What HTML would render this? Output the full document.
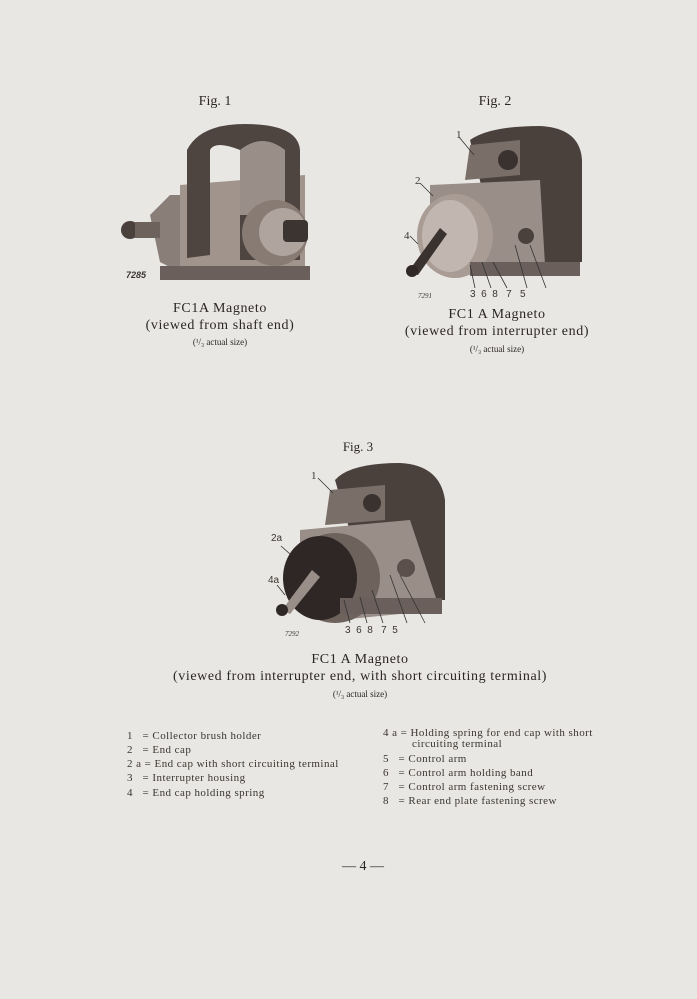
<!DOCTYPE html>
<html><head><meta charset="utf-8"><style>
body{margin:0;width:697px;height:999px;background:#e9e7e3;position:relative;overflow:hidden;font-family:"Liberation Serif",serif;color:#2a2624}
.t{position:absolute;white-space:nowrap;transform:translateX(-50%)}
.c{font-size:14px;letter-spacing:0.6px}
.l{position:absolute;white-space:nowrap;font-size:11px;letter-spacing:0.45px;color:#3a3532}
svg{position:absolute;left:0;top:0}
</style></head><body>
<svg width="697" height="999">
<g>
<path d="M150 215 L170 195 L185 195 L185 275 L160 262 Z" fill="#8a7e78"/>
<circle cx="130" cy="230" r="9" fill="#4a403c"/>
<rect x="135" y="222" width="25" height="16" fill="#6e625c"/>
<path d="M180 185 L305 175 L305 270 L180 275 Z" fill="#a0948c"/>
<path d="M187 150 Q200 124 245 124 Q298 124 300 150 L300 260 L240 260 L240 150 Q215 140 210 150 L210 255 L187 258 Z" fill="#4e4440"/>
<path d="M240 150 Q262 132 285 150 L285 215 L240 215 Z" fill="#9a8e88"/>
<circle cx="275" cy="233" r="33" fill="#877b74"/>
<circle cx="283" cy="232" r="24" fill="#b0a59e"/>
<rect x="283" y="220" width="25" height="22" rx="4" fill="#3c3431"/>
<rect x="160" y="266" width="150" height="14" fill="#6a5f5a"/>
</g>
<g>
<path d="M470 140 Q490 126 540 126 Q580 128 582 160 L582 262 L500 262 Z" fill="#4a403c"/>
<path d="M470 145 L520 140 L520 175 L465 180 Z" fill="#7a6e68"/>
<circle cx="508" cy="160" r="10" fill="#3a322f"/>
<path d="M430 185 L540 180 L545 265 L470 275 L430 250 Z" fill="#9a8e88"/>
<ellipse cx="455" cy="236" rx="38" ry="42" fill="#a89c95"/>
<ellipse cx="450" cy="236" rx="28" ry="36" fill="#c2b7b0"/>
<path d="M408 272 L440 228 L447 234 L418 275 Z" fill="#3a322f"/>
<circle cx="412" cy="271" r="6" fill="#2f2826"/>
<circle cx="526" cy="236" r="8" fill="#4a403c"/>
<rect x="470" y="262" width="110" height="14" fill="#6a5f5a"/>
<g stroke="#333" stroke-width="0.8" fill="none">
<line x1="459" y1="137" x2="474" y2="155"/><line x1="420" y1="183" x2="433" y2="196"/><line x1="410" y1="236" x2="418" y2="244"/>
<line x1="475" y1="288" x2="470" y2="265"/><line x1="491" y1="288" x2="482" y2="262"/><line x1="507" y1="288" x2="493" y2="262"/><line x1="527" y1="288" x2="515" y2="245"/><line x1="546" y1="288" x2="530" y2="245"/>
</g>
</g>
<g>
<path d="M335 480 Q350 463 400 463 Q440 465 445 500 L445 600 L370 600 Z" fill="#4a403c"/>
<path d="M330 490 L385 485 L385 520 L325 525 Z" fill="#7a6e68"/>
<circle cx="372" cy="503" r="9" fill="#3a322f"/>
<path d="M300 530 L410 520 L440 610 L340 620 L300 580 Z" fill="#9a8e88"/>
<ellipse cx="335" cy="578" rx="45" ry="45" fill="#6e625c"/>
<ellipse cx="320" cy="578" rx="37" ry="42" fill="#2e2725"/>
<path d="M282 610 L312 570 L320 577 L290 614 Z" fill="#9a8e88"/>
<circle cx="282" cy="610" r="6" fill="#2f2826"/>
<circle cx="406" cy="568" r="9" fill="#5a4f4a"/>
<rect x="340" y="598" width="102" height="16" fill="#6a5f5a"/>
<g stroke="#333" stroke-width="0.8" fill="none">
<line x1="318" y1="478" x2="333" y2="493"/><line x1="281" y1="546" x2="290" y2="554"/><line x1="277" y1="585" x2="285" y2="595"/>
<line x1="350" y1="623" x2="344" y2="600"/><line x1="367" y1="623" x2="360" y2="597"/><line x1="383" y1="623" x2="372" y2="590"/><line x1="407" y1="623" x2="390" y2="575"/><line x1="425" y1="623" x2="400" y2="575"/>
</g>
</g>
</svg>
<div class="t" style="left:215px;top:94px;font-size:14px">Fig. 1</div>
<div class="t" style="left:495px;top:94px;font-size:14px">Fig. 2</div>
<div class="l" style="left:126px;top:270px;font-size:9px;letter-spacing:0;font-style:italic;font-weight:bold;font-family:'Liberation Sans',sans-serif">7285</div>
<div class="l" style="left:418px;top:292px;font-size:7px;letter-spacing:0;font-style:italic">7291</div>
<div class="l" style="left:456px;top:129px">1</div>
<div class="l" style="left:415px;top:175px">2</div>
<div class="l" style="left:404px;top:230px">4</div>
<div class="l" style="left:470px;top:289px;font-size:10px;letter-spacing:0;font-family:'Liberation Sans',sans-serif">3 &nbsp;6 &nbsp;8 &nbsp; 7 &nbsp; 5</div>
<div class="t c" style="left:220px;top:301px">FC1A Magneto</div>
<div class="t c" style="left:220px;top:318px">(viewed from shaft end)</div>
<div class="t" style="left:220px;top:337px;font-size:9px">(¹/₃ actual size)</div>
<div class="t c" style="left:497px;top:307px">FC1 A Magneto</div>
<div class="t c" style="left:497px;top:324px">(viewed from interrupter end)</div>
<div class="t" style="left:497px;top:344px;font-size:9px">(¹/₃ actual size)</div>
<div class="t" style="left:358px;top:439px;font-size:13px">Fig. 3</div>
<div class="l" style="left:311px;top:470px">1</div>
<div class="l" style="left:271px;top:533px;font-size:10px;letter-spacing:0;font-family:'Liberation Sans',sans-serif">2a</div>
<div class="l" style="left:268px;top:575px;font-size:10px;letter-spacing:0;font-family:'Liberation Sans',sans-serif">4a</div>
<div class="l" style="left:285px;top:630px;font-size:7px;letter-spacing:0;font-style:italic">7292</div>
<div class="l" style="left:345px;top:625px;font-size:10px;letter-spacing:0;font-family:'Liberation Sans',sans-serif">3 &nbsp;6 &nbsp;8 &nbsp; 7 &nbsp;5</div>
<div class="t c" style="left:360px;top:652px">FC1 A Magneto</div>
<div class="t c" style="left:360px;top:669px">(viewed from interrupter end, with short circuiting terminal)</div>
<div class="t" style="left:360px;top:689px;font-size:9px">(¹/₃ actual size)</div>
<div class="l" style="left:127px;top:730px">1 &nbsp;&nbsp;= Collector brush holder</div>
<div class="l" style="left:127px;top:744px">2 &nbsp;&nbsp;= End cap</div>
<div class="l" style="left:127px;top:758px">2 a = End cap with short circuiting terminal</div>
<div class="l" style="left:127px;top:772px">3 &nbsp;&nbsp;= Interrupter housing</div>
<div class="l" style="left:127px;top:787px">4 &nbsp;&nbsp;= End cap holding spring</div>
<div class="l" style="left:383px;top:727px">4 a = Holding spring for end cap with short</div>
<div class="l" style="left:412px;top:738px">circuiting terminal</div>
<div class="l" style="left:383px;top:753px">5 &nbsp;&nbsp;= Control arm</div>
<div class="l" style="left:383px;top:767px">6 &nbsp;&nbsp;= Control arm holding band</div>
<div class="l" style="left:383px;top:781px">7 &nbsp;&nbsp;= Control arm fastening screw</div>
<div class="l" style="left:383px;top:795px">8 &nbsp;&nbsp;= Rear end plate fastening screw</div>
<div class="t" style="left:363px;top:859px;font-size:14px">— 4 —</div>
</body></html>
